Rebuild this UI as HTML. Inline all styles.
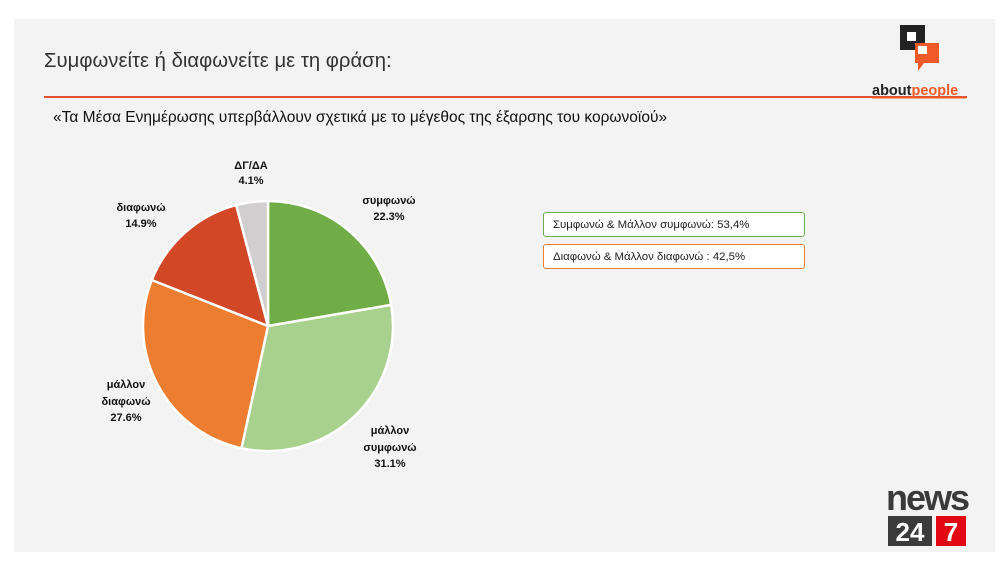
<!DOCTYPE html>
<html><head><meta charset="utf-8"><style>
body{margin:0;width:1006px;height:571px;background:#fff;position:relative;overflow:hidden;font-family:"Liberation Sans",sans-serif}
.panel{position:absolute;left:14px;top:19px;width:981px;height:533px;background:#f3f3f3}
.t{position:absolute;white-space:nowrap;color:#222}
.lb{position:absolute;font-size:11.4px;height:25px;line-height:25px;padding-left:9px;box-sizing:border-box;background:#fff;border-radius:3px;color:#222}
</style></head><body>
<div class="panel"></div>
<div class="t" style="left:44px;top:50px;font-size:20.3px;color:#333">Συμφωνείτε ή διαφωνείτε με τη φράση:</div>
<div style="position:absolute;left:44px;top:96px;width:923px;height:2px;background:#e0522f"></div>
<div class="t" style="left:53px;top:109px;font-size:15.5px;color:#111">«Τα Μέσα Ενημέρωσης υπερβάλλουν σχετικά με το μέγεθος της έξαρσης του κορωνοϊού»</div>
<svg style="position:absolute;left:0;top:0" width="1006" height="571">
<g stroke="#fff" stroke-width="2.5" stroke-linejoin="round">
<path d="M268,326 L268,201 A125,125 0 0 1 391.2,304.9 Z" fill="#70ad47"/>
<path d="M268,326 L391.2,304.9 A125,125 0 0 1 241.5,448.2 Z" fill="#a9d18e"/>
<path d="M268,326 L241.5,448.2 A125,125 0 0 1 151.8,280 Z" fill="#ed7d31"/>
<path d="M268,326 L151.8,280 A125,125 0 0 1 236.2,205.1 Z" fill="#d24726"/>
<path d="M268,326 L236.2,205.1 A125,125 0 0 1 268,201 Z" fill="#d0cece"/>
</g>
<g font-family="Liberation Sans,sans-serif" font-size="11" font-weight="bold" fill="#111" text-anchor="middle">
<text x="251" y="169">ΔΓ/ΔΑ</text><text x="251" y="184">4.1%</text>
<text x="389" y="204">συμφωνώ</text><text x="389" y="220">22.3%</text>
<text x="141" y="211">διαφωνώ</text><text x="141" y="227">14.9%</text>
<text x="126" y="388">μάλλον</text><text x="126" y="405">διαφωνώ</text><text x="126" y="421">27.6%</text>
<text x="390" y="434">μάλλον</text><text x="390" y="451">συμφωνώ</text><text x="390" y="467">31.1%</text>
</g>
<rect x="900" y="25" width="25" height="25" fill="#222"/>
<rect x="907" y="32" width="9" height="9" fill="#fff"/>
<path d="M915,43 h24 v20 h-15 l-6,8 v-8 h-3z" fill="#f05a28"/>
<rect x="918" y="46" width="9" height="8" fill="#fff"/>
<text x="872" y="95" font-family="Liberation Sans,sans-serif" font-size="14.5" font-weight="bold" fill="#222">about<tspan fill="#f05a28">people</tspan></text>
<rect x="872" y="97" width="94" height="1.5" fill="#f05a28"/>
<text x="886" y="510" font-family="Liberation Sans,sans-serif" font-size="36" font-weight="bold" fill="#3a3a3a" letter-spacing="-2">news</text>
<rect x="888" y="516" width="44" height="30" fill="#3b3b3b"/>
<rect x="936" y="516" width="30" height="30" fill="#e30613"/>
<text x="910" y="541" text-anchor="middle" font-family="Liberation Sans,sans-serif" font-size="26" font-weight="bold" fill="#fff">24</text>
<text x="951" y="541" text-anchor="middle" font-family="Liberation Sans,sans-serif" font-size="26" font-weight="bold" fill="#fff">7</text>
</svg>
<div class="lb" style="left:543px;top:212px;width:262px;border:1px solid #70ad47">Συμφωνώ &amp; Μάλλον συμφωνώ: 53,4%</div>
<div class="lb" style="left:543px;top:244px;width:262px;border:1px solid #ed7d31">Διαφωνώ &amp; Μάλλον διαφωνώ : 42,5%</div>
</body></html>
